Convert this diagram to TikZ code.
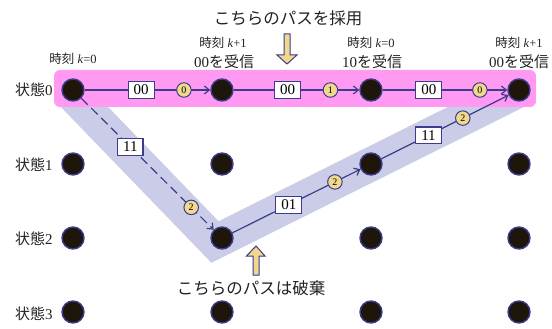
\documentclass[tikz,border=0pt]{standalone}
\usepackage{fontspec}
\setmainfont{Liberation Serif}
\newfontfamily\jp{Noto Sans CJK JP}
\usetikzlibrary{arrows.meta}
\definecolor{lineblue}{HTML}{3C3C8C}
\definecolor{nodefill}{HTML}{1E150B}
\definecolor{pinkband}{HTML}{FF99F2}
\definecolor{lavband}{HTML}{CACCE8}
\definecolor{yel}{HTML}{F0D98C}
\definecolor{txt}{HTML}{222222}
\begin{document}
\begin{tikzpicture}[x=1pt,y=-1pt,
  state/.style={circle,fill=nodefill,draw=lineblue,line width=1.4pt,minimum size=22pt,inner sep=0pt},
  lbl/.style={solid,draw=lineblue,fill=white,line width=1.1pt,inner xsep=5.5pt,inner ysep=2.5pt,text height=10.5pt,text depth=1pt,font=\fontsize{15}{15}\selectfont,text=black},
  num/.style={solid,circle,draw=lineblue,fill=yel,line width=1pt,minimum size=14.5pt,inner sep=0pt,font=\fontsize{10}{10}\selectfont,text=black},
  edgeline/.style={draw=lineblue,line width=1.2pt,-{Straight Barb[length=5pt,width=8pt,line width=1.2pt]}},
  rowlbl/.style={font=\fontsize{15}{15}\selectfont,text=txt},
  timelbl/.style={font=\fontsize{12.5}{12.5}\selectfont,text=txt},
  recvlbl/.style={font=\fontsize{15}{15}\selectfont,text=txt},
  bigtxt/.style={font=\jp\fontsize{16.5}{16.5}\selectfont,text=txt},
  blockarrow/.style={fill=yel,draw=lineblue,line width=1pt,line join=miter}
]
\useasboundingbox (0,0) rectangle (552,329);

% bands
\draw[lavband,line width=34pt,line join=miter] (70,92) -- (215,242) -- (520,90);
\fill[pinkband,rounded corners=6pt] (54,70) rectangle (536,107);

% state nodes
\foreach \c/\x in {0/73,1/222,2/371,3/519}{
  \foreach \r/\y in {0/90,1/164,2/238,3/312}{
    \node[state] (s\r\c) at (\x,\y) {};
  }
}

% row labels
\node[rowlbl] (r0) at (34,90) {{\jp 状態}0};
\node[rowlbl] (r1) at (34,165) {{\jp 状態}1};
\node[rowlbl] (r2) at (34,239) {{\jp 状態}2};
\node[rowlbl] (r3) at (34,314) {{\jp 状態}3};

% time labels
\node[timelbl] (t0) at (73,59) {{\jp 時刻} \textit{k}=0};
\node[timelbl] (t1) at (223,43) {{\jp 時刻} \textit{k}+1};
\node[recvlbl] (v1) at (224,62) {00{\jp を受信}};
\node[timelbl] (t2) at (371,43) {{\jp 時刻} \textit{k}=0};
\node[recvlbl] (v2) at (372,62) {10{\jp を受信}};
\node[timelbl] (t3) at (519,43) {{\jp 時刻} \textit{k}+1};
\node[recvlbl] (v3) at (519,62) {00{\jp を受信}};

% titles
\node[bigtxt] (title) at (288,18) {こちらのパスを採用};
\node[bigtxt] (discard) at (251,288) {こちらのパスは破棄};

% block arrows
\draw[blockarrow] (284,34) -- (290,34) -- (290,55) -- (297,55) -- (287,64) -- (277,55) -- (284,55) -- cycle;
\draw[blockarrow] (253,275) -- (259,275) -- (259,256) -- (265,256) -- (256,246) -- (246.5,256) -- (253,256) -- cycle;

% edges
\draw[edgeline] (s00) -- (s01) node[lbl,pos=0.45] (b1) {00} node[num,pos=0.79] (c1) {0};
\draw[edgeline] (s01) -- (s02) node[lbl,pos=0.43] (b2) {00} node[num,pos=0.77] (c2) {1};
\draw[edgeline] (s02) -- (s03) node[lbl,pos=0.37] (b3) {00} node[num,pos=0.78] (c3) {0};
\draw[edgeline,dash pattern=on 9pt off 5pt] (s00) -- (s21) node[lbl,pos=0.37] (b4) {11} node[num,pos=0.83] (c4) {2};
\draw[edgeline] (s21) -- (s12) node[lbl,pos=0.44] (b5) {01} node[num,pos=0.80] (c5) {2};
\draw[edgeline] (s12) -- (s03) node[lbl,pos=0.37] (b6) {11} node[num,pos=0.64] (c6) {2};
\end{tikzpicture}
\end{document}
